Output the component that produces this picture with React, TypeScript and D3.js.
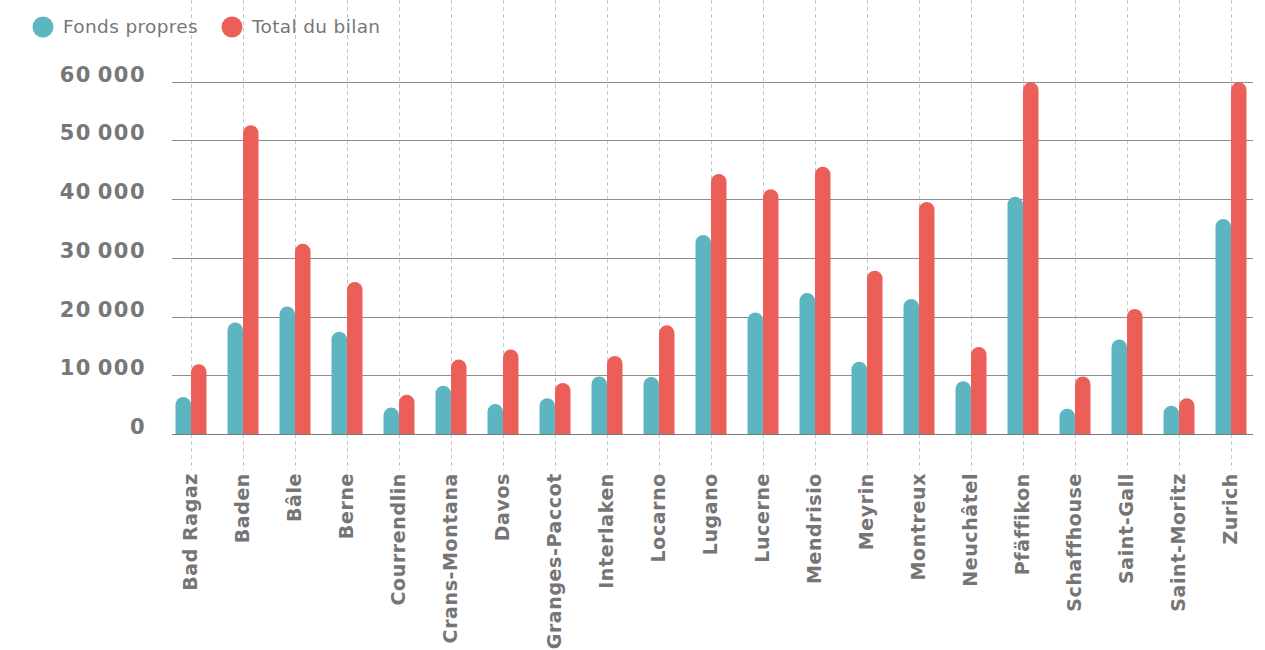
import React, { useEffect, useRef } from "react";
import * as d3 from "d3";

const categories = [
  "Bad Ragaz", "Baden", "Bâle", "Berne", "Courrendlin", "Crans-Montana", "Davos",
  "Granges-Paccot", "Interlaken", "Locarno", "Lugano", "Lucerne", "Mendrisio", "Meyrin",
  "Montreux", "Neuchâtel", "Pfäffikon", "Schaffhouse", "Saint-Gall", "Saint-Moritz", "Zurich",
];
const fondsPropres = [
  6300, 19000, 21700, 17400, 4500, 8200, 5100,
  6100, 9800, 9700, 33900, 20700, 24000, 12300,
  23000, 9000, 40400, 4300, 16100, 4800, 36600,
];
const totalBilan = [
  11900, 52600, 32400, 25900, 6700, 12700, 14400,
  8700, 13300, 18500, 44300, 41700, 45500, 27800,
  39500, 14800, 59900, 9800, 21300, 6100, 59900,
];
const yTicks = [0, 10000, 20000, 30000, 40000, 50000, 60000];
const seriesNames = ["Fonds propres", "Total du bilan"];
const seriesColors = ["#5db5c1", "#ec5e58"];

const W = 1265;
const H = 650;

export default function App() {
  const ref = useRef<SVGSVGElement | null>(null);

  useEffect(() => {
    const svg = d3.select(ref.current);
    svg.selectAll("*").remove();

    const plotLeft = 172;
    const plotRight = 1253;
    const x = d3.scaleBand<string>().domain(categories).range([165, 1257]).padding(0);
    const y = d3.scaleLinear().domain([0, 60000]).range([434, 81.7]);
    const barW = 15.5;

    // vertical dashed gridlines
    svg.append("g")
      .selectAll("line")
      .data(categories)
      .join("line")
      .attr("x1", (d) => Math.round((x(d) as number) + x.bandwidth() / 2) + 0.5)
      .attr("x2", (d) => Math.round((x(d) as number) + x.bandwidth() / 2) + 0.5)
      .attr("y1", 0)
      .attr("y2", 470)
      .attr("stroke", "#bfc7d1")
      .attr("stroke-width", 1)
      .attr("stroke-dasharray", "4,3");

    // horizontal gridlines
    svg.append("g")
      .selectAll("line")
      .data(yTicks)
      .join("line")
      .attr("x1", plotLeft)
      .attr("x2", plotRight)
      .attr("y1", (d) => Math.round(y(d)) + 0.5)
      .attr("y2", (d) => Math.round(y(d)) + 0.5)
      .attr("stroke", (d) => (d === 0 ? "#7a7a7a" : "#8c8c8c"))
      .attr("stroke-width", 1);

    // y labels
    const fmt = (v: number) => (v === 0 ? "0" : d3.format(",")(v).replace(/,/g, "\u2009"));
    svg.append("g")
      .selectAll("text")
      .data(yTicks)
      .join("text")
      .attr("x", 146)
      .attr("y", (d) => y(d))
      .attr("text-anchor", "end")
      .attr("font-family", "'DejaVu Sans', sans-serif")
      .attr("font-weight", "bold")
      .attr("font-size", 21)
      .attr("letter-spacing", 1.5)
      .attr("fill", "#777777")
      .text((d) => fmt(d));

    const barPath = (x0: number, w: number, top: number, bottom: number) => {
      const r = Math.min(w / 2, Math.max(0, bottom - top));
      const p = d3.path();
      p.moveTo(x0, bottom);
      p.lineTo(x0, top + r);
      p.arc(x0 + w / 2, top + r, w / 2, Math.PI, 0);
      p.lineTo(x0 + w, bottom);
      p.closePath();
      return p.toString();
    };

    const series = [fondsPropres, totalBilan];
    series.forEach((vals, si) => {
      svg.append("g")
        .selectAll("path")
        .data(categories)
        .join("path")
        .attr("d", (d, i) => {
          const cx = (x(d) as number) + x.bandwidth() / 2;
          const x0 = si === 0 ? cx - barW : cx;
          return barPath(x0, barW, y(vals[i]), y(0));
        })
        .attr("fill", seriesColors[si]);
    });

    // x labels
    svg.append("g")
      .selectAll("text")
      .data(categories)
      .join("text")
      .attr("transform", (d) => {
        const cx = (x(d) as number) + x.bandwidth() / 2;
        return `translate(${cx - 1},473) rotate(-90)`;
      })
      .attr("text-anchor", "end")
      .attr("dy", "0.35em")
      .attr("font-family", "'DejaVu Sans', sans-serif")
      .attr("font-weight", "bold")
      .attr("font-size", 19)
      .attr("letter-spacing", 0.6)
      .attr("fill", "#757575")
      .text((d) => d);

    // legend
    const legendX = [43, 232];
    const lg = svg.append("g");
    seriesNames.forEach((name, i) => {
      lg.append("circle")
        .attr("cx", legendX[i])
        .attr("cy", 27)
        .attr("r", 10.5)
        .attr("fill", seriesColors[i]);
      lg.append("text")
        .attr("x", legendX[i] + 20)
        .attr("y", 27)
        .attr("dy", "0.35em")
        .attr("font-family", "'DejaVu Sans', sans-serif")
        .attr("font-size", 18.5)
        .attr("letter-spacing", 0.35)
        .attr("fill", "#777777")
        .text(name);
    });
  }, []);

  return (
    <svg
      ref={ref}
      width={W}
      height={H}
      style={{ position: "absolute", left: 0, top: 0, background: "#fff" }}
    />
  );
}
